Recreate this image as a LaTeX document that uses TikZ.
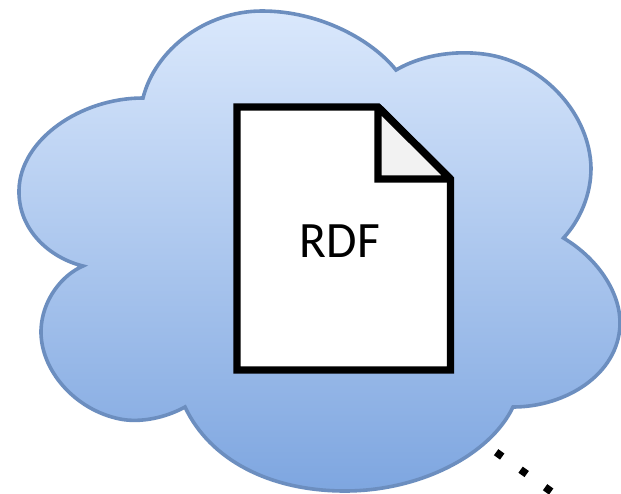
\documentclass[tikz,border=0pt]{standalone}
\usepackage{fontspec}
\setmainfont{Carlito}
\tikzset{
  cloudshape/.style={draw=cloudedge,line width=3.6pt,top color=cloudtop,bottom color=cloudbottom,line join=miter},
  docline/.style={draw=black,line width=7.4pt,line join=miter,miter limit=2},
  dotline/.style={draw=black,line width=7.5pt,dash pattern=on 7.5pt off 22.6pt},
  rdflabel/.style={font=\fontsize{51}{60}\selectfont,text=black,inner sep=0pt,xscale=0.97}
}
\definecolor{cloudedge}{HTML}{6C8EBF}
\definecolor{cloudtop}{HTML}{DAE8FC}
\definecolor{cloudbottom}{HTML}{7EA6E0}
\definecolor{foldfill}{HTML}{F2F2F2}
\begin{document}
\begin{tikzpicture}[x=1pt,y=-1pt]
\useasboundingbox (0,0) rectangle (621,493);
\clip (0,0) rectangle (621,493);
\fill[white] (0,0) rectangle (621,493);
\path[cloudshape] (143,98)
  .. controls (155,50) and (205,11) .. (262,11)
  .. controls (320,11) and (372,40) .. (396,70)
  .. controls (425,53) and (462,50) .. (490,55)
  .. controls (545,65) and (590,115) .. (591,168)
  .. controls (591,195) and (580,220) .. (563.5,238)
  .. controls (600,260) and (621,295) .. (620,325)
  .. controls (618,375) and (565,407) .. (513,407)
  .. controls (490,455) and (420,491) .. (345,491)
  .. controls (270,491) and (210,460) .. (185,407)
  .. controls (165,418) and (140,423) .. (120,419)
  .. controls (75,410) and (40,370) .. (41,330)
  .. controls (42,300) and (62,275) .. (83,266)
  .. controls (50,258) and (18,230) .. (19,190)
  .. controls (20,140) and (80,98) .. (143,98) -- cycle;
\coordinate (dotA) at (496.1,452.2);
\coordinate (dotB) at (570,505);
\path[dotline] (dotA) -- (dotB);
\path[docline,fill=white] (237,107) -- (378,107) -- (450.5,179) -- (450.5,370) -- (237,370) -- cycle;
\path[docline,fill=foldfill] (378,107) -- (378,179) -- (450.5,179) -- cycle;
\node[rdflabel] (rdf) at (340,241.5) {RDF};
\end{tikzpicture}
\end{document}
